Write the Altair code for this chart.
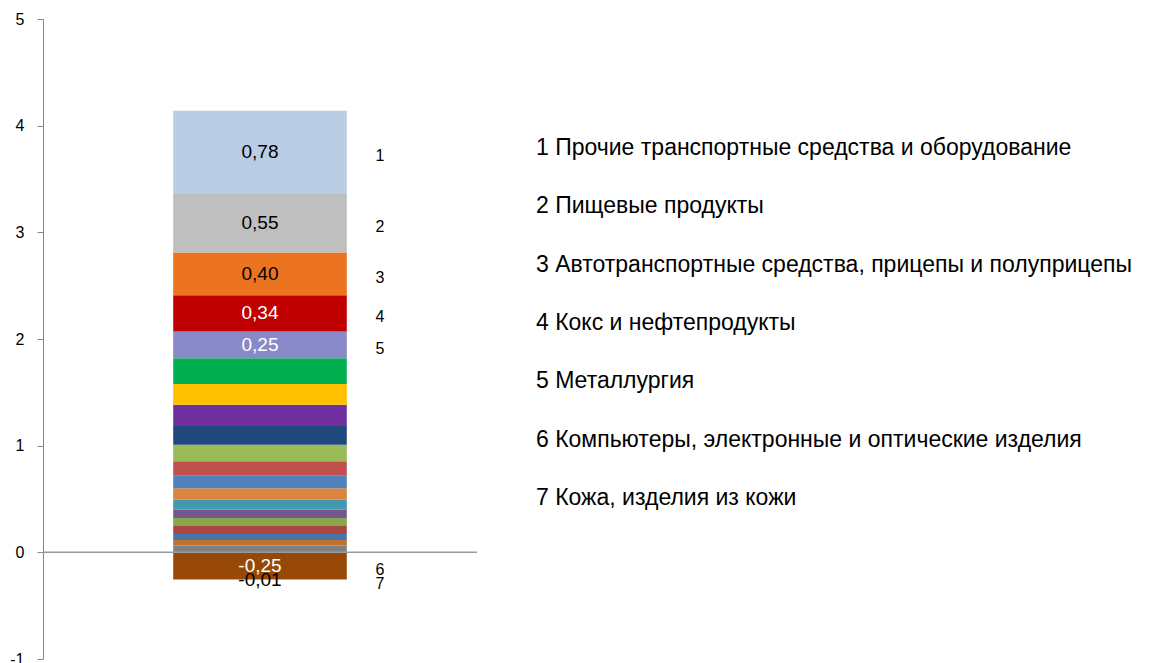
import altair as alt
import pandas as pd

# ---- data (bottom of stack first) ----
seg_ids = [f"s{i:02d}" for i in range(1, 23)]
seg_values = [0.065, 0.050, 0.056, 0.075, 0.075, 0.081, 0.090, 0.109, 0.118, 0.134,
              0.155, 0.177, 0.199, 0.193, 0.243, 0.25, 0.34, 0.40, 0.55, 0.78,
              -0.25, -0.01]
seg_labels = ["", "", "", "", "", "", "", "", "", "",
              "", "", "", "", "", "0,25", "0,34", "0,40", "0,55", "0,78",
              "-0,25", "-0,01"]
seg_numbers = ["", "", "", "", "", "", "", "", "", "",
               "", "", "", "", "", "5", "4", "3", "2", "1",
               "6", "7"]
legend_items = [
    "1 Прочие транспортные средства и оборудование",
    "2 Пищевые продукты",
    "3 Автотранспортные средства, прицепы и полуприцепы",
    "4 Кокс и нефтепродукты",
    "5 Металлургия",
    "6 Компьютеры, электронные и оптические изделия",
    "7 Кожа, изделия из кожи",
]
y_ticks = [-1, 0, 1, 2, 3, 4, 5]

# ---- styles ----
seg_colors = ["#7F7F7F", "#BE7133", "#4676AA", "#AA4643", "#89A54E", "#71588F",
              "#4198AF", "#DB843D", "#4F81BD", "#C0504D", "#9BBB59", "#1F497D",
              "#7030A0", "#FFC000", "#00B050", "#8789C8", "#C00000", "#EC7320",
              "#BFBFBF", "#B9CDE5", "#974806", "#92D050"]
label_colors = ["black"] * 15 + ["white", "white", "black", "black", "black", "white", "black"]

df = pd.DataFrame({
    "grp": ["A"] * len(seg_ids),
    "seg": seg_ids,
    "value": seg_values,
    "label": seg_labels,
    "num": seg_numbers,
    "lcol": label_colors,
    "ord": list(range(len(seg_ids))),
})
leg = pd.DataFrame({"idx": list(range(1, len(legend_items) + 1)), "text": legend_items})

W, H = 1100, 640
PLOT_W = 434
FONT = "Liberation Sans"

xband = alt.X("grp:N", axis=None,
              scale=alt.Scale(range=[0, PLOT_W], paddingOuter=0.75, paddingInner=0))

base = alt.Chart(df).transform_stack(
    stack="value", groupby=["grp"], as_=["y0", "y1"], sort=[alt.SortField("ord")]
).transform_calculate(mid="(datum.y0 + datum.y1) / 2")

yscale = alt.Scale(domain=[-1, 5], nice=False, zero=False)

bars = base.mark_bar(strokeWidth=0).encode(
    x=xband,
    y=alt.Y("y0:Q", scale=yscale,
            axis=alt.Axis(values=y_ticks, labelExpr="'' + datum.value", title=None, grid=False,
                          domainColor="#868686", tickColor="#868686", tickSize=6,
                          labelPadding=13, labelFontSize=16, labelColor="#000000",
                          labelFont=FONT, domainWidth=1)),
    y2="y1:Q",
    color=alt.Color("seg:N", scale=alt.Scale(domain=seg_ids, range=seg_colors), legend=None),
)

vlabels = base.transform_filter("datum.label != ''").mark_text(
    font=FONT, fontSize=19, baseline="middle", align="center"
).encode(
    x=xband,
    y=alt.Y("mid:Q", scale=yscale),
    text="label:N",
    color=alt.Color("lcol:N", scale=None),
)

nlabels = base.transform_filter("datum.num != ''").mark_text(
    font=FONT, fontSize=16, baseline="middle", align="center", dx=120, dy=4, color="black"
).encode(
    x=xband,
    y=alt.Y("mid:Q", scale=yscale),
    text="num:N",
)

zero_rule = alt.Chart(pd.DataFrame({"z": [0]})).mark_rule(color="#9A9A9A", strokeWidth=1.5).encode(
    x=alt.value(0), x2=alt.value(PLOT_W), y=alt.Y("z:Q", scale=yscale)
)

TOP_OFF, STEP = 129, 58.33
d0 = 1 - TOP_OFF / STEP
d1 = d0 + H / STEP
legend_text = alt.Chart(leg).mark_text(
    font=FONT, fontSize=23, align="left", baseline="middle", color="black"
).encode(
    x=alt.value(493),
    y=alt.Y("idx:Q", axis=None, scale=alt.Scale(domain=[d0, d1], reverse=True, nice=False, zero=False)),
    text="text:N",
)

left = alt.layer(bars, zero_rule, vlabels, nlabels)
chart = alt.layer(left, legend_text).resolve_scale(y="independent").properties(
    width=W, height=H,
    padding={"left": 1, "top": 3, "right": 0, "bottom": 0},
).configure_view(stroke=None)

chart.save("out.html", embed_options={"renderer": "svg", "actions": False})
